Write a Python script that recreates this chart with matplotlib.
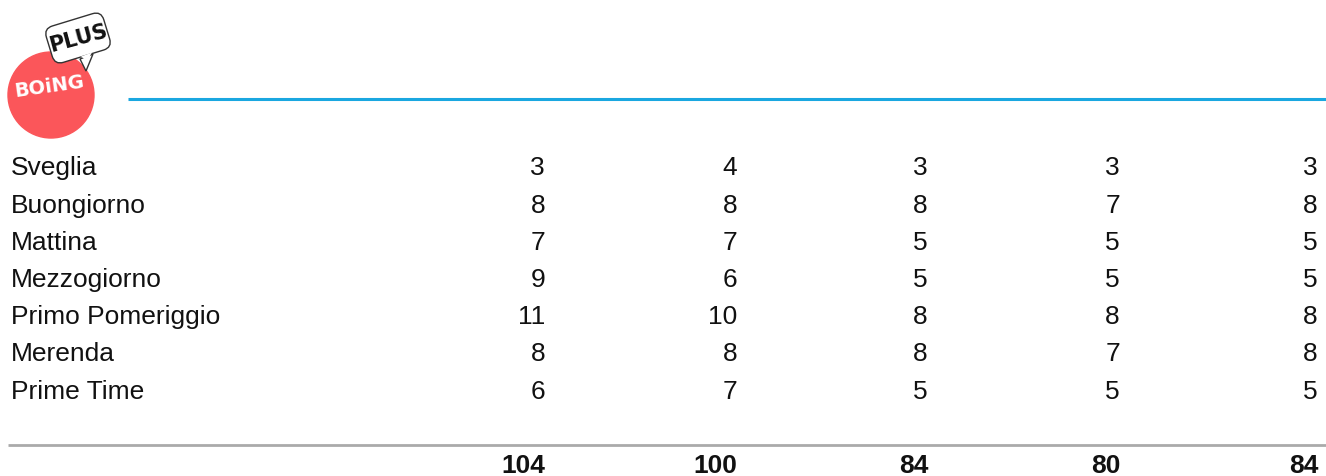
import matplotlib
matplotlib.use("Agg")
import matplotlib.pyplot as plt
from matplotlib.patches import Circle, FancyBboxPatch, Polygon
import matplotlib.transforms as mtransforms

plt.rcParams['font.family'] = ['Liberation Sans', 'DejaVu Sans']

rows = ["Sveglia", "Buongiorno", "Mattina", "Mezzogiorno",
        "Primo Pomeriggio", "Merenda", "Prime Time"]
col1 = [3, 8, 7, 9, 11, 8, 6]
col2 = [4, 8, 7, 6, 10, 8, 7]
col3 = [3, 8, 5, 5, 8, 8, 5]
col4 = [3, 7, 5, 5, 8, 7, 5]
col5 = [3, 8, 5, 5, 8, 8, 5]
totals = [104, 100, 84, 80, 84]

columns = [col1, col2, col3, col4, col5]
W, H = 1326, 477
fig = plt.figure(figsize=(W / 100, H / 100), dpi=100)
ax = fig.add_axes([0, 0, 1, 1])
ax.set_xlim(0, W)
ax.set_ylim(H, 0)
ax.axis('off')

col_x = [545, 737, 928, 1120, 1318]
row_y0, row_dy = 175.5, 37.2
fs = 19

for i, name in enumerate(rows):
    y = row_y0 + i * row_dy
    ax.text(11, y, name, ha='left', va='baseline', fontsize=fs, color='#111111')
    for cx, col in zip(col_x, columns):
        ax.text(cx, y, str(col[i]), ha='right', va='baseline', fontsize=fs, color='#111111')

for cx, t in zip(col_x, totals):
    ax.text(cx, 473.5, str(t), ha='right', va='baseline', fontsize=fs, fontweight='bold', color='#111111')

# lines
ax.plot([128, W], [100, 100], color='#1aa7e0', lw=2.2, solid_capstyle='butt')
ax.plot([8, W], [446, 446], color='#aaaaaa', lw=2.0, solid_capstyle='butt')

# logo
ax.add_patch(Circle((51, 96), 43, color='#fb565a', zorder=2))
bub = FancyBboxPatch((50, 22), 56, 34, boxstyle="round,pad=2,rounding_size=9",
                     fc='white', ec='#333333', lw=1.0, zorder=3)
rot = mtransforms.Affine2D().rotate_deg_around(78, 39, -17) + ax.transData
bub.set_transform(rot)
ax.add_patch(bub)
tail = Polygon([[80, 60], [93, 55], [86, 72]], closed=True, fc='white', ec='#333333', lw=1.0, zorder=3)
ax.add_patch(tail)
ax.add_patch(Polygon([[81, 57.5], [92, 53.5], [87, 62]], closed=True, fc='white', ec='none', zorder=4))
ax.text(78, 38, "PLUS", ha='center', va='center', fontsize=15, fontweight='bold',
        color='#111111', rotation=15, zorder=5, family='DejaVu Sans')
ax.text(49, 87, "BOiNG", ha='center', va='center', fontsize=14, fontweight='heavy',
        color='white', rotation=8, zorder=5, family='DejaVu Sans')

fig.savefig("out.png", dpi=100)
